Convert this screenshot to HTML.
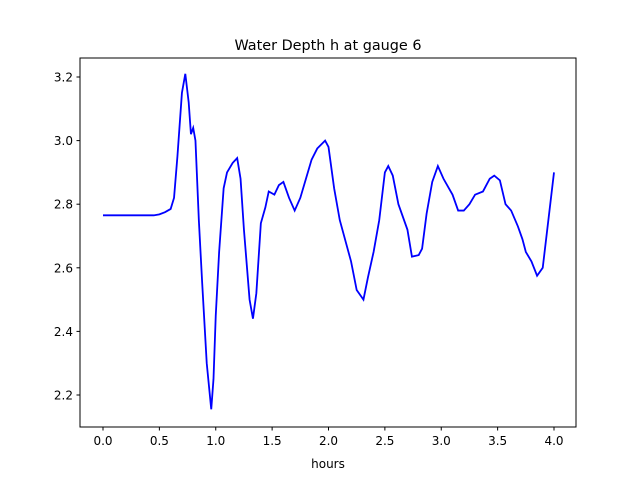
<!DOCTYPE html>
<html><head><meta charset="utf-8"><style>
body{margin:0;background:#fff}
svg text{font-family:"DejaVu Sans","Liberation Sans",sans-serif;fill:#000}
</style></head><body>
<svg width="640" height="480">
<rect width="640" height="480" fill="#fff"/>
<text x="328" y="50" font-size="14.4" text-anchor="middle">Water Depth h at gauge 6</text>
<g id="ticks"></g>
<polyline id="line" fill="none" stroke="#0000ff" stroke-width="1.8"/>
<rect x="80" y="58" width="496" height="369" fill="none" stroke="#000" stroke-width="1"/>
<text x="328" y="468" font-size="12" text-anchor="middle">hours</text>
</svg>
<script>
const times=[0,0.3,0.45,0.5,0.55,0.6,0.63,0.66,0.7,0.73,0.76,0.78,0.8,0.82,0.85,0.88,0.92,0.96,0.98,1.0,1.03,1.07,1.1,1.15,1.19,1.22,1.25,1.3,1.33,1.36,1.4,1.44,1.47,1.52,1.56,1.6,1.65,1.7,1.75,1.8,1.85,1.9,1.97,2.0,2.05,2.1,2.2,2.25,2.31,2.35,2.4,2.45,2.5,2.53,2.57,2.62,2.7,2.74,2.8,2.83,2.87,2.92,2.97,3.02,3.1,3.15,3.2,3.25,3.3,3.37,3.43,3.47,3.52,3.57,3.62,3.68,3.72,3.75,3.8,3.85,3.9,3.95,4.0];
const depths=[2.765,2.765,2.765,2.768,2.775,2.785,2.82,2.95,3.15,3.21,3.12,3.02,3.04,3.0,2.75,2.55,2.3,2.155,2.25,2.45,2.65,2.85,2.9,2.93,2.945,2.88,2.72,2.5,2.44,2.52,2.74,2.79,2.84,2.83,2.86,2.87,2.82,2.78,2.82,2.88,2.94,2.975,3.0,2.98,2.85,2.75,2.62,2.53,2.5,2.57,2.65,2.75,2.9,2.92,2.89,2.8,2.72,2.635,2.64,2.66,2.77,2.87,2.92,2.88,2.83,2.78,2.78,2.8,2.83,2.84,2.88,2.89,2.875,2.8,2.78,2.73,2.69,2.65,2.62,2.575,2.6,2.75,2.9];
const xTicks=[0,0.5,1,1.5,2,2.5,3,3.5,4];
const xTickLabels=["0.0","0.5","1.0","1.5","2.0","2.5","3.0","3.5","4.0"];
const yTicks=[2.2,2.4,2.6,2.8,3.0,3.2];
const yTickLabels=["2.2","2.4","2.6","2.8","3.0","3.2"];
const X=t=>103+t*112.75, Y=h=>77+(3.2-h)*318;
const NS="http://www.w3.org/2000/svg", g=document.getElementById('ticks');
xTicks.forEach((t,i)=>{
 const l=document.createElementNS(NS,'line');
 
 
 l.setAttribute('x1',X(t));l.setAttribute('x2',X(t));l.setAttribute('y1',427);l.setAttribute('y2',430.5);l.setAttribute('stroke','#000');g.appendChild(l);
 const tx=document.createElementNS(NS,'text');
 
 
 tx.setAttribute('x',X(t));tx.setAttribute('y',445);tx.setAttribute('font-size','12');tx.setAttribute('text-anchor','middle');tx.textContent=xTickLabels[i];g.appendChild(tx);
});
yTicks.forEach((h,i)=>{
 const l=document.createElementNS(NS,'line');
 
 
 l.setAttribute('x1',76.5);l.setAttribute('x2',80);l.setAttribute('y1',Y(h));l.setAttribute('y2',Y(h));l.setAttribute('stroke','#000');g.appendChild(l);
 const tx=document.createElementNS(NS,'text');
 
 
 tx.setAttribute('x',73);tx.setAttribute('y',Y(h)+4.5);tx.setAttribute('font-size','12');tx.setAttribute('text-anchor','end');tx.textContent=yTickLabels[i];g.appendChild(tx);
});
document.getElementById('line').setAttribute('points',times.map((t,i)=>X(t)+','+Y(depths[i])).join(' '));
</script>
</body></html>
